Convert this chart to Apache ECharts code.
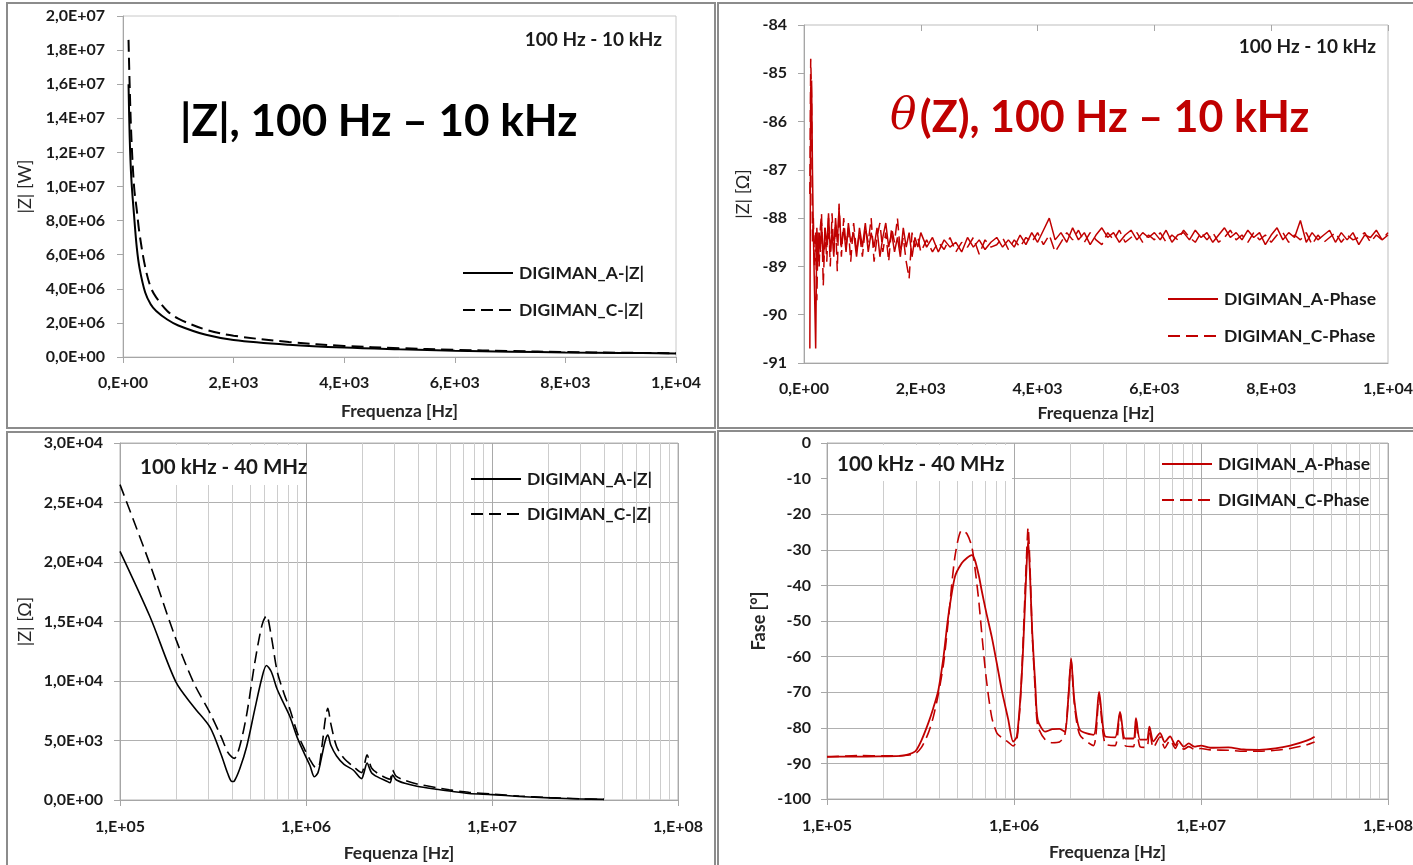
<!DOCTYPE html>
<html>
<head>
<meta charset="utf-8">
<title>DIGIMAN |Z| and phase</title>
<script src="https://cdn.jsdelivr.net/npm/echarts@6/dist/echarts.min.js"></script>
<style>
  html, body { margin: 0; padding: 0; background: #fff; }
  #chart { width: 1413px; height: 865px; }
</style>
</head>
<body>
<div id="chart"></div>
<script>
// ---------- top-left: |Z|, 100 Hz - 10 kHz ----------
const lowFreq = [100, 120, 150, 200, 250, 300, 400, 500, 600, 800, 1000, 1500, 2000, 3000, 4000, 5000, 6000, 7000, 8000, 9000, 10000];
const lowZA = [1.6e7, 1.3e7, 1.05e7, 8.3e6, 6.4e6, 5.2e6, 3.8e6, 3.1e6, 2.7e6, 2.2e6, 1.85e6, 1.3e6, 1.0e6, 7.2e5, 5.5e5, 4.5e5, 3.7e5, 3.1e5, 2.7e5, 2.4e5, 2.1e5];
const lowZC = [1.86e7, 1.6e7, 1.3e7, 1.0e7, 8.6e6, 7.2e6, 5.3e6, 4.1e6, 3.5e6, 2.7e6, 2.25e6, 1.6e6, 1.25e6, 8.8e5, 6.5e5, 5.2e5, 4.2e5, 3.5e5, 2.9e5, 2.5e5, 2.2e5];

// ---------- top-right: phase, 100 Hz - 10 kHz ----------
const lowPhFreq = [
  100, 115, 130, 145, 160, 180, 200, 220, 240, 260, 280, 300,
  330, 360, 390, 420, 450, 480, 510, 540, 570, 600,
  640, 680, 720, 760, 800,
  850, 900, 950, 1000, 1050, 1100, 1150, 1200, 1250, 1300, 1350, 1400,
  1450, 1500, 1550, 1600, 1650, 1700, 1750, 1800, 1850, 1900, 1950, 2000,
  2100, 2200, 2300, 2400, 2500, 2600, 2700, 2800, 2900, 3000,
  3100, 3200, 3300, 3400, 3500, 3600, 3700, 3800, 3900, 4000,
  4100, 4200, 4300, 4400, 4500, 4600, 4700, 4800, 4900, 5000,
  5100, 5200, 5300, 5400, 5500, 5600, 5700, 5800, 5900, 6000,
  6100, 6200, 6300, 6400, 6500, 6600, 6700, 6800, 6900, 7000,
  7100, 7200, 7300, 7400, 7500, 7600, 7700, 7800, 7900, 8000,
  8100, 8200, 8300, 8400, 8500, 8600, 8700, 8800, 8900, 9000,
  9100, 9200, 9300, 9400, 9500, 9600, 9700, 9800, 9900, 10000
];
const lowPhA = [
  -90.7, -85.3, -85.15, -87.0, -88.3, -89.5, -90.7, -88.2, -88.9, -88.3, -88.7, -88.1,
  -88.9, -88.2, -88.6, -87.9, -88.7, -88.3, -88.8, -88.0, -88.5, -87.8,
  -88.6, -88.2, -88.7, -88.1, -88.5,
  -88.3, -88.8, -88.2, -88.6, -88.1, -88.7, -88.3, -88.6, -88.2, -88.8, -88.4, -88.1,
  -88.6, -88.3, -88.7, -88.4, -88.8, -88.2, -88.6, -88.3, -88.8, -88.4, -88.6, -88.3,
  -88.6, -88.4, -88.7, -88.45, -88.6, -88.5, -88.7, -88.4, -88.6, -88.45,
  -88.65, -88.5, -88.4, -88.6, -88.45, -88.6, -88.35, -88.55, -88.3, -88.5,
  -88.25, -88.0, -88.45, -88.3, -88.5, -88.2, -88.45, -88.3, -88.55, -88.35,
  -88.2, -88.4, -88.3, -88.5, -88.35, -88.25, -88.45, -88.3, -88.4, -88.3,
  -88.45, -88.25, -88.5, -88.35, -88.3, -88.45, -88.25, -88.4, -88.3, -88.5,
  -88.35, -88.2, -88.4, -88.3, -88.45, -88.25, -88.4, -88.3, -88.55, -88.35,
  -88.2, -88.45, -88.3, -88.4, -88.05, -88.5, -88.3, -88.45, -88.35, -88.25,
  -88.5, -88.3, -88.45, -88.3, -88.55, -88.35, -88.4, -88.25, -88.45, -88.35
];
const lowPhC = [
  -87.5, -84.7, -85.5, -88.5, -88.0, -89.0, -88.3, -89.7, -88.3, -89.0, -88.2, -87.9,
  -89.4, -88.2, -88.9, -88.0, -89.0, -87.9, -88.7, -88.1, -89.1, -87.7,
  -88.8, -88.0, -88.6, -88.2, -88.9,
  -88.1, -88.7, -88.3, -88.8, -88.2, -88.5, -88.0, -88.9, -88.4, -88.1, -88.7, -88.3,
  -88.9, -88.2, -88.5, -88.0, -88.7, -88.4, -88.9, -89.25, -88.3, -88.6, -88.4, -88.7,
  -88.45, -88.7, -88.5, -88.65, -88.4, -88.7, -88.5, -88.6, -88.4, -88.75,
  -88.45, -88.6, -88.55, -88.4, -88.65, -88.45, -88.6, -88.4, -88.5, -88.3,
  -88.55, -88.35, -88.7, -88.5, -88.3, -88.45, -88.25, -88.5, -88.3, -88.45,
  -88.55, -88.3, -88.45, -88.25, -88.5, -88.4, -88.3, -88.5, -88.35, -88.45,
  -88.3, -88.5, -88.35, -88.45, -88.25, -88.4, -88.5, -88.3, -88.45, -88.3,
  -88.5, -88.4, -88.25, -88.45, -88.35, -88.5, -88.3, -88.45, -88.35, -88.5,
  -88.35, -88.3, -88.5, -88.35, -88.45, -88.3, -88.55, -88.35, -88.5, -88.4,
  -88.3, -88.5, -88.35, -88.45, -88.4, -88.3, -88.5, -88.35, -88.45, -88.3
];

// ---------- bottom-left: |Z|, 100 kHz - 40 MHz ----------
const highFreq = [1e5, 1.45e5, 2e5, 2.5e5, 3.05e5, 3.5e5, 3.8e5, 4.0e5, 4.12e5, 4.4e5, 4.8e5, 5.3e5, 5.8e5, 6.13e5, 6.5e5, 7.0e5, 7.6e5, 8.2e5, 9.0e5, 9.8e5,
  1.05e6, 1.11e6, 1.16e6, 1.22e6, 1.27e6, 1.31e6, 1.36e6, 1.46e6, 1.6e6, 1.8e6, 1.99e6, 2.05e6, 2.13e6, 2.25e6, 2.45e6, 2.7e6, 2.83e6, 2.92e6, 3.05e6, 3.4e6,
  3.95e6, 5e6, 5.9e6, 7.5e6, 1e7, 1.4e7, 2.04e7, 3e7, 4e7];
const highZA = [20900, 15400, 9900, 7800, 6100, 3800, 2200, 1550, 1600, 2600, 4500, 7600, 10300, 11300, 10800, 9300, 8100, 7000, 5200, 3900,
  2900, 1950, 2300, 3800, 5000, 5450, 4600, 3700, 3000, 2500, 1800, 2300, 3100, 2300, 1900, 1600, 1450, 2100, 1700, 1400,
  1150, 900, 750, 550, 450, 300, 180, 90, 50];
const highZC = [26500, 19800, 13500, 9800, 7300, 5300, 4000, 3600, 3500, 4500, 7200, 11500, 14700, 15500, 13800, 10800, 9000, 7600, 5600, 4300,
  3400, 2800, 2700, 4600, 6800, 7700, 6400, 4500, 3500, 2800, 2300, 2800, 3800, 2700, 2200, 1850, 1750, 2500, 2000, 1650,
  1350, 1050, 850, 650, 500, 330, 200, 100, 50];

// ---------- bottom-right: phase, 100 kHz - 40 MHz ----------
const highPhFreq = [1e5, 1.5e5, 2e5, 2.5e5, 2.95e5, 3.2e5, 3.48e5, 3.7e5, 3.94e5, 4.2e5, 4.45e5, 4.83e5, 5.25e5, 5.6e5, 5.94e5, 6.18e5, 6.5e5, 6.71e5, 7.1e5, 7.6e5,
  8.1e5, 8.6e5, 9.3e5, 9.9e5, 1.035e6, 1.08e6, 1.12e6, 1.16e6, 1.19e6, 1.22e6, 1.25e6, 1.3e6, 1.34e6, 1.47e6, 1.6e6, 1.75e6, 1.87e6, 1.95e6, 2.02e6, 2.1e6,
  2.25e6, 2.66e6, 2.85e6, 3.07e6, 3.47e6, 3.69e6, 3.93e6, 4.35e6, 4.49e6, 4.72e6, 5.13e6, 5.3e6, 5.56e6, 6.04e6, 6.4e6, 6.83e6, 7.3e6, 7.55e6, 8.1e6, 8.6e6,
  9.2e6, 1e7, 1.12e7, 1.4e7, 1.69e7, 2.05e7, 2.5e7, 3e7, 3.67e7, 4.05e7];
const highPhA = [-88.1, -88.1, -88.0, -87.9, -86.7, -83.5, -78.7, -74.5, -69.4, -60, -48.8, -37.6, -33.8, -32.3, -31.5, -32.9, -37.5, -41.3, -47.5, -54.4,
  -62, -69.4, -77.5, -83.9, -82.5, -72, -57.2, -38, -27.2, -38, -52.5, -68, -77.8, -81.1, -80.4, -80.3, -81.1, -72, -60.5, -72,
  -80.6, -82, -69.9, -82.4, -82.7, -75.5, -83, -83, -77.3, -83.3, -83.3, -79.7, -83.8, -81.5, -84, -82.4, -84.9, -83.6, -85.3, -84.4,
  -85.3, -85, -85.6, -85.5, -86.1, -86.2, -85.8, -85, -83.6, -82.5];
const highPhC = [-88.2, -87.8, -87.9, -87.8, -87.3, -85.5, -81.5, -77, -70.5, -62, -50, -32, -24.5, -25.5, -29, -35, -45, -53, -66, -77,
  -81.5, -82.8, -84, -85.1, -83.5, -73, -55, -35, -23.7, -36, -53, -70, -79.5, -83.4, -84.2, -84, -82, -72, -61, -73,
  -82, -85, -71, -84.5, -85, -76, -85, -85.3, -78, -85.3, -85.5, -80.5, -85.6, -82.5, -85.7, -83.5, -85.8, -84.5, -86, -85.3,
  -86, -85.8, -86.2, -86.3, -86.6, -86.6, -86.3, -85.8, -84.8, -84];

// ---------- helpers ----------
const RED = "#c00000";
const zip = (xs, ys) => xs.map((x, i) => [x, ys[i]]);

// Excel-like "2,0E+07" / "1,E+05"
const sci = (v, digits) => {
  const [m, e] = Number(v).toExponential(digits).split("e");
  const n = parseInt(e, 10);
  return m.replace(".", ",") + (digits === 0 ? "," : "") + "E" + (n < 0 ? "-" : "+") + String(Math.abs(n)).padStart(2, "0");
};

// minor vertical gridlines of the log axes (2..9 x decade)
const minorLog = [];
[1e5, 1e6, 1e7].forEach((d) => {
  for (let k = 2; k <= 9; k++) minorLog.push(k * d);
});

const tickFont = { fontFamily: "Lato", fontWeight: "bold", fontSize: 16, color: "#1a1a1a" };
const nameFont = { fontFamily: "Lato", fontWeight: "bold", fontSize: 17.5, color: "#262626" };
const yNameFont = { fontFamily: "Lato", fontWeight: "normal", fontSize: 18, color: "#262626" };
const axisGray = "#a6a6a6";

const xAxisBase = (grid, extra) => Object.assign({
  gridIndex: grid,
  axisLine: { show: true, onZero: false, lineStyle: { color: axisGray, width: 1 } },
  axisTick: { show: true, length: 6, lineStyle: { color: axisGray } },
  axisLabel: Object.assign({ margin: 18 }, tickFont),
  splitLine: { show: false },
  nameLocation: "middle",
  nameTextStyle: nameFont,
}, extra);

const yAxisBase = (grid, extra) => Object.assign({
  gridIndex: grid,
  type: "value",
  axisLine: { show: true, lineStyle: { color: axisGray, width: 1 } },
  axisTick: { show: true, length: 6, lineStyle: { color: axisGray } },
  axisLabel: Object.assign({ margin: 16 }, tickFont),
  splitLine: { show: false },
  nameLocation: "middle",
  nameTextStyle: yNameFont,
}, extra);

const legendBase = (left, top, gap, names) => ({
  left, top,
  orient: "vertical",
  itemWidth: 50,
  itemHeight: 14,
  itemGap: gap,
  padding: 0,
  selectedMode: false,
  data: names,
  itemStyle: { opacity: 0 },
  textStyle: { fontFamily: "Lato", fontWeight: "bold", fontSize: 17.5, color: "#1a1a1a", padding: [0, 0, 0, 1] },
});

const lineSeries = (name, x, y, data, color, width, dashed, smooth) => ({
  name, type: "line",
  xAxisIndex: x, yAxisIndex: y,
  data,
  symbol: "none",
  smooth,
  z: 3,
  lineStyle: { color, width, type: dashed ? [12, 6] : "solid" },
  itemStyle: { color },
});

const minorGrid = (x, y) => ({
  type: "line", xAxisIndex: x, yAxisIndex: y, data: [], silent: true,
  markLine: {
    silent: true, symbol: "none", z: 1, animation: false,
    label: { show: false },
    lineStyle: { color: "#cdcdcd", width: 1, type: "solid" },
    data: minorLog.map((v) => ({ xAxis: v })),
  },
});

const chart = echarts.init(document.getElementById("chart"));

chart.setOption({
  animation: false,
  backgroundColor: "#ffffff",
  grid: [
    { left: 123, top: 16, right: 737, bottom: 508, show: true, borderColor: "#c8c8c8", borderWidth: 1, outerBoundsMode: "none" },
    { left: 804, top: 25, right: 25, bottom: 502, show: true, borderColor: "#bdbdbd", borderWidth: 1, outerBoundsMode: "none" },
    { left: 120, top: 443, right: 735, bottom: 65, show: true, borderColor: "#b5b5b5", borderWidth: 1, outerBoundsMode: "none" },
    { left: 827, top: 443, right: 25, bottom: 66, show: true, borderColor: "#b5b5b5", borderWidth: 1, outerBoundsMode: "none" },
  ],
  xAxis: [
    xAxisBase(0, { type: "value", min: 0, max: 10000, interval: 2000, name: "Frequenza [Hz]", nameGap: 45,
      axisLabel: Object.assign({ margin: 18, formatter: (v) => sci(v, 0) }, tickFont) }),
    xAxisBase(1, { type: "value", min: 0, max: 10000, interval: 2000, name: "Frequenza [Hz]", nameGap: 41,
      axisTick: { show: false },
      axisLabel: Object.assign({ margin: 18, formatter: (v) => sci(v, 0) }, tickFont) }),
    xAxisBase(2, { type: "log", logBase: 10, min: 1e5, max: 1e8, name: "Fequenza [Hz]", nameGap: 44,
      axisLabel: Object.assign({ margin: 19, formatter: (v) => sci(v, 0) }, tickFont),
      splitLine: { show: true, lineStyle: { color: "#a9a9a9", width: 1 } } }),
    xAxisBase(3, { type: "log", logBase: 10, min: 1e5, max: 1e8, name: "Frequenza [Hz]", nameGap: 44,
      axisLabel: Object.assign({ margin: 19, formatter: (v) => sci(v, 0) }, tickFont),
      splitLine: { show: true, lineStyle: { color: "#a9a9a9", width: 1 } } }),
    // top ticks of the phase plot (axis crosses at the top there)
    { gridIndex: 1, type: "value", position: "top", min: 0, max: 10000, interval: 2000,
      axisLine: { show: false }, axisLabel: { show: false }, splitLine: { show: false },
      axisTick: { show: true, inside: true, length: 6, lineStyle: { color: axisGray } } },
  ],
  yAxis: [
    yAxisBase(0, { min: 0, max: 2e7, interval: 2e6, name: "|Z| [W]", nameGap: 89,
      axisLabel: Object.assign({ margin: 18, formatter: (v) => sci(v, 1) }, tickFont) }),
    yAxisBase(1, { min: -91, max: -84, interval: 1, name: "|Z| [Ω]", nameGap: 52,
      axisLabel: Object.assign({ margin: 17 }, tickFont) }),
    yAxisBase(2, { min: 0, max: 30000, interval: 5000, name: "|Z| [Ω]", nameGap: 86,
      axisLabel: Object.assign({ margin: 17, formatter: (v) => sci(v, 1) }, tickFont),
      splitLine: { show: true, lineStyle: { color: "#b0b0b0", width: 1 } } }),
    yAxisBase(3, { min: -100, max: 0, interval: 10, name: "Fase [°]", nameGap: 59,
      nameTextStyle: { fontFamily: "Lato", fontWeight: "bold", fontSize: 18, color: "#262626" },
      axisLabel: Object.assign({ margin: 16 }, tickFont),
      splitLine: { show: true, lineStyle: { color: "#b0b0b0", width: 1 } } }),
  ],
  legend: [
    legendBase(462, 264, 19, ["DIGIMAN_A-|Z|", "DIGIMAN_C-|Z|"]),
    legendBase(1167, 290, 19, ["DIGIMAN_A-Phase", "DIGIMAN_C-Phase"]),
    legendBase(470, 470, 17, ["DIGIMAN_A-|Z|", "DIGIMAN_C-|Z|"]),
    legendBase(1161, 455, 18, ["DIGIMAN_A-Phase", "DIGIMAN_C-Phase"]),
  ],
  series: [
    lineSeries("DIGIMAN_A-|Z|", 0, 0, zip(lowFreq, lowZA), "#000", 2, false, 0.35),
    lineSeries("DIGIMAN_C-|Z|", 0, 0, zip(lowFreq, lowZC), "#000", 2, true, 0.35),
    lineSeries("DIGIMAN_A-Phase", 1, 1, zip(lowPhFreq, lowPhA), RED, 1.5, false, false),
    lineSeries("DIGIMAN_C-Phase", 1, 1, zip(lowPhFreq, lowPhC), RED, 1.5, true, false),
    minorGrid(2, 2),
    lineSeries("DIGIMAN_A-|Z|", 2, 2, zip(highFreq, highZA), "#000", 1.6, false, 0.3),
    lineSeries("DIGIMAN_C-|Z|", 2, 2, zip(highFreq, highZC), "#000", 1.6, true, 0.3),
    minorGrid(3, 3),
    lineSeries("DIGIMAN_A-Phase", 3, 3, zip(highPhFreq, highPhA), RED, 1.8, false, 0.25),
    lineSeries("DIGIMAN_C-Phase", 3, 3, zip(highPhFreq, highPhC), RED, 1.6, true, 0.25),
  ],
  graphic: [
    // panel frames
    { type: "rect", silent: true, z: 20, shape: { x: 7, y: 3, width: 708, height: 425 }, style: { fill: "none", stroke: "#8c8c8c", lineWidth: 2 } },
    { type: "rect", silent: true, z: 20, shape: { x: 718, y: 3, width: 710, height: 425 }, style: { fill: "none", stroke: "#8c8c8c", lineWidth: 2 } },
    { type: "rect", silent: true, z: 20, shape: { x: 7, y: 432, width: 708, height: 450 }, style: { fill: "none", stroke: "#8c8c8c", lineWidth: 2 } },
    { type: "rect", silent: true, z: 20, shape: { x: 718, y: 431, width: 710, height: 450 }, style: { fill: "none", stroke: "#8c8c8c", lineWidth: 2 } },
    // big titles
    { type: "text", z: 20, x: 180, y: 122, style: { text: "|Z|, 100 Hz – 10 kHz", font: "bold 44px Lato", fill: "#000", align: "left", verticalAlign: "middle", textAlign: "left", textVerticalAlign: "middle" } },
    { type: "text", z: 20, x: 890, y: 118, style: {
      text: "{t|θ} {b|(Z), 100 Hz – 10 kHz}", align: "left", verticalAlign: "middle", textAlign: "left", textVerticalAlign: "middle",
      rich: {
        t: { font: "italic 44px 'DejaVu Serif'", fill: RED },
        b: { font: "bold 43px Lato", fill: RED },
      } } },
    // range labels
    { type: "text", z: 20, x: 662, y: 40, style: { text: "100 Hz - 10 kHz", font: "bold 19px Lato", fill: "#1a1a1a", align: "right", verticalAlign: "middle", textAlign: "right", textVerticalAlign: "middle" } },
    { type: "text", z: 20, x: 1376, y: 47, style: { text: "100 Hz - 10 kHz", font: "bold 19px Lato", fill: "#1a1a1a", align: "right", verticalAlign: "middle", textAlign: "right", textVerticalAlign: "middle" } },
    { type: "rect", silent: true, z: 15, shape: { x: 121, y: 445, width: 184, height: 40 }, style: { fill: "#fff" } },
    { type: "text", z: 20, x: 140, y: 467, style: { text: "100 kHz - 40 MHz", font: "bold 20.5px Lato", fill: "#1a1a1a", align: "left", verticalAlign: "middle", textAlign: "left", textVerticalAlign: "middle" } },
    { type: "rect", silent: true, z: 15, shape: { x: 828, y: 445, width: 184, height: 36 }, style: { fill: "#fff" } },
    { type: "text", z: 20, x: 837, y: 464, style: { text: "100 kHz - 40 MHz", font: "bold 20.5px Lato", fill: "#1a1a1a", align: "left", verticalAlign: "middle", textAlign: "left", textVerticalAlign: "middle" } },
  ],
});
</script>
</body>
</html>
